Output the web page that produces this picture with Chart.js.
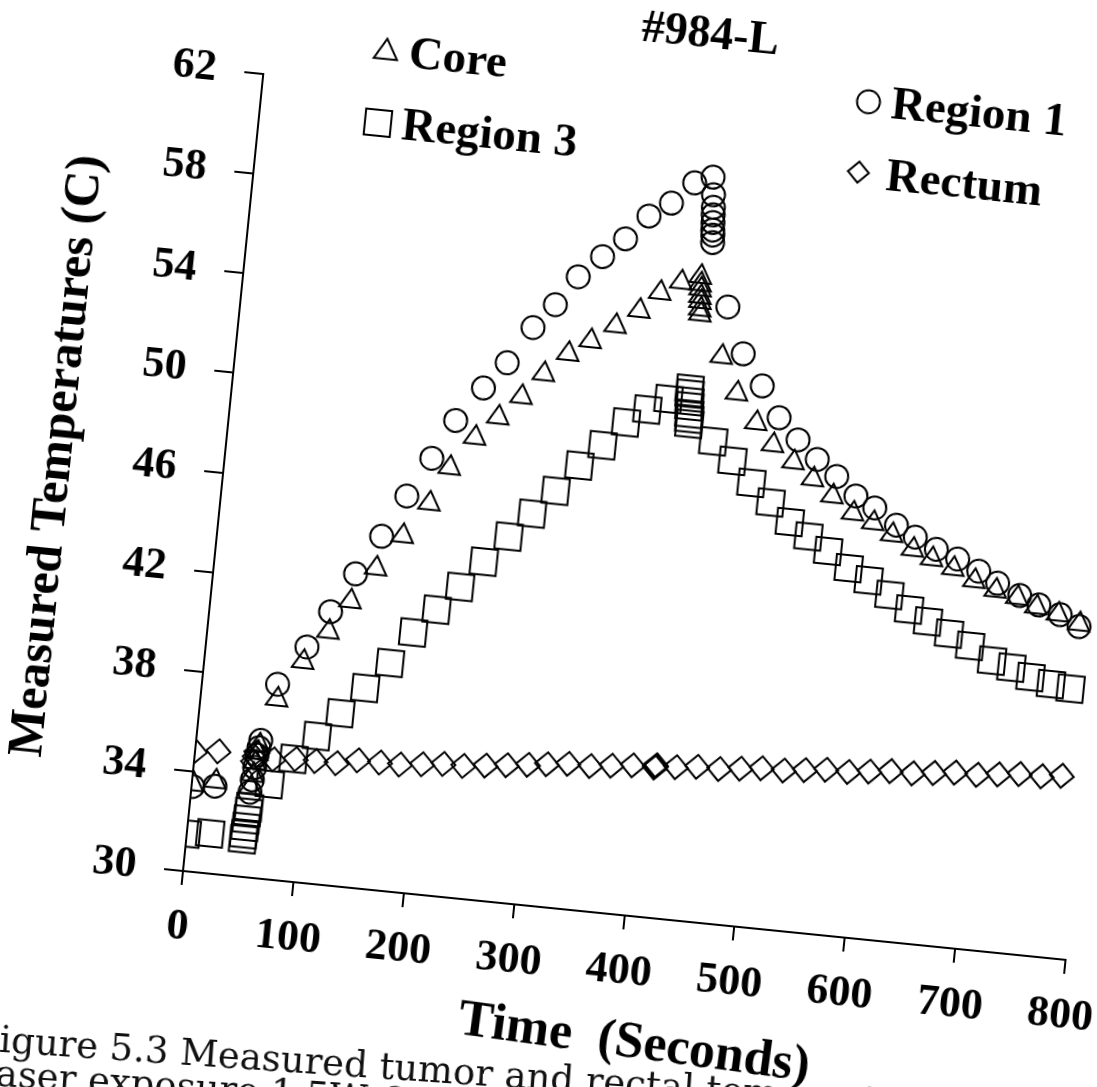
<!DOCTYPE html>
<html>
<head>
<meta charset="utf-8">
<title>#984-L</title>
<script src="https://cdn.jsdelivr.net/npm/chart.js@4.4.1/dist/chart.umd.min.js"></script>
<style>
  html, body { margin: 0; padding: 0; background: #fff; width: 1097px; height: 1087px; overflow: hidden; position: relative; }
  /* the whole figure sits slightly tilted on the page */
  #sheet { position: absolute; left: -27px; top: -50px; width: 1157px; height: 1091px;
           transform-origin: 210px 921px; transform: rotate(5.75deg); }
  #caption { position: absolute; left: -25px; top: 1021px; transform-origin: 0 0; transform: rotate(4deg);
             font-family: "DejaVu Serif", serif; font-size: 37px; line-height: 34px; color: #111; white-space: nowrap; }
</style>
</head>
<body>
<div id="sheet"><canvas id="chart" width="1157" height="1091"></canvas></div>
<div id="caption">Figure 5.3 Measured tumor and rectal temperatures<br>Laser exposure 1.5W, 2</div>
<script>
// ---- data: time (s) and temperature (C) for each probe ----
const chartTitle = '#984-L';
const xTitle = 'Time  (Seconds)';
const yTitle = 'Measured Temperatures (C)';
const xTicks = [0, 100, 200, 300, 400, 500, 600, 700, 800];
const yTicks = [30, 34, 38, 42, 46, 50, 54, 58, 62];

const region1Time = [1, 21, 53, 54, 55, 56, 57, 58, 68, 91, 109, 128, 148, 167, 186, 204, 226, 245, 265, 283, 301, 321, 340, 359, 378, 397, 413, 415, 416, 416.5, 417, 417.5, 418, 418.5, 438, 456, 476, 494, 513, 532, 551, 570, 588, 609, 627, 647, 667, 687, 705, 726, 744, 764, 782];
const region1Temp = [33.4, 33.5, 33.4, 33.9, 34.4, 34.9, 35.2, 35.5, 37.8, 39.4, 40.9, 42.5, 44.1, 45.8, 47.4, 49.0, 50.4, 51.5, 53.0, 54.0, 55.2, 56.1, 56.9, 57.9, 58.5, 59.4, 59.7, 59.0, 58.5, 58.2, 57.9, 57.6, 57.4, 57.1, 54.6, 52.8, 51.6, 50.4, 49.6, 48.9, 48.3, 47.6, 47.2, 46.6, 46.2, 45.8, 45.5, 45.1, 44.7, 44.3, 44.0, 43.7, 43.3];

const coreTime = [1, 21, 53, 54, 55, 56, 57, 69, 89, 109, 126, 146, 167, 188, 203, 223, 242, 261, 279, 299, 318, 339, 359, 376, 394, 411, 411.5, 412, 412.5, 413, 413.5, 414, 437, 454, 474, 491, 511, 530, 549, 569, 588, 606, 626, 644, 664, 684, 704, 724, 742, 762, 782];
const coreTemp = [33.5, 33.7, 33.6, 34.1, 34.6, 35.0, 35.3, 37.2, 38.8, 40.1, 41.4, 42.8, 44.2, 45.6, 47.1, 48.4, 49.3, 50.2, 51.2, 52.1, 52.7, 53.4, 54.1, 54.9, 55.4, 55.7, 55.4, 55.2, 54.9, 54.7, 54.4, 54.2, 52.6, 51.2, 50.1, 49.3, 48.7, 48.1, 47.5, 46.9, 46.6, 46.2, 45.7, 45.4, 45.1, 44.7, 44.4, 44.2, 43.9, 43.7, 43.4];

const region3Time = [0, 21, 51, 51.5, 52, 52.5, 53, 53.5, 70, 89, 108, 127, 147, 167, 185, 204, 223, 242, 262, 281, 300, 319, 338, 357, 375, 393, 411, 411.5, 412, 412.5, 413, 413.5, 414, 437, 456, 475, 494, 513, 531, 550, 570, 589, 609, 628, 646, 666, 686, 707, 725, 743, 762, 780];
const region3Temp = [31.5, 31.6, 31.5, 31.7, 32.0, 32.3, 32.6, 32.8, 33.8, 34.9, 35.9, 36.9, 38.0, 39.1, 40.4, 41.4, 42.4, 43.5, 44.6, 45.6, 46.6, 47.7, 48.6, 49.6, 50.2, 50.7, 51.2, 51.0, 50.7, 50.5, 50.2, 50.0, 49.8, 49.2, 48.5, 47.7, 47.0, 46.3, 45.8, 45.3, 44.7, 44.3, 43.8, 43.3, 42.9, 42.5, 42.1, 41.6, 41.4, 41.1, 40.9, 40.8];

const rectumTime = [0, 21, 53, 54, 55, 71, 91, 109, 128, 147, 167, 185, 205, 224, 242, 262, 281, 300, 317, 336, 356, 375, 394, 414, 414.5, 415, 433, 452, 472, 491, 510, 530, 549, 568, 588, 607, 626, 646, 665, 684, 704, 723, 742, 762, 780];
const rectumTemp = [34.8, 34.9, 34.6, 34.8, 35.0, 34.8, 34.9, 34.9, 34.9, 35.1, 35.1, 35.1, 35.2, 35.3, 35.3, 35.4, 35.5, 35.6, 35.7, 35.8, 35.8, 35.9, 36.0, 36.0, 36.05, 36.1, 36.1, 36.2, 36.2, 36.3, 36.4, 36.4, 36.5, 36.6, 36.6, 36.7, 36.8, 36.8, 36.9, 37.0, 37.0, 37.1, 37.2, 37.2, 37.3];

const FONT = '"Liberation Serif", "Times New Roman", serif';

function pairs(xs, ys) { return xs.map((x, i) => ({ x: x, y: ys[i] })); }

function series(label, xs, ys, style, radius) {
  return {
    label: label,
    data: pairs(xs, ys),
    pointStyle: style,
    pointRadius: radius,
    pointHoverRadius: radius,
    pointBorderWidth: 2,
    borderColor: '#000',
    backgroundColor: 'rgba(0,0,0,0)',
    showLine: false
  };
}

// legend entries laid out in two rows around the top of the plot
// (offsets measured from the lower-left corner of the plot area)
const legendLayout = [
  { index: 1, r: 13.5, mx: 120, my: -835, tx: 143, ty: -834 },
  { index: 0, r: 11.5, mx: 605, my: -834, tx: 628, ty: -832 },
  { index: 2, r: 18.5, mx: 119, my: -764, tx: 143, ty: -762 },
  { index: 3, r: 10.5, mx: 602, my: -763, tx: 630, ty: -760 }
];

function marker(ctx, style, r, x, y) {
  ctx.beginPath();
  if (style === 'circle') {
    ctx.arc(x, y, r, 0, Math.PI * 2);
  } else if (style === 'triangle') {
    ctx.moveTo(x, y - r);
    ctx.lineTo(x + r * Math.sin(2 * Math.PI / 3), y - r * Math.cos(2 * Math.PI / 3));
    ctx.lineTo(x - r * Math.sin(2 * Math.PI / 3), y - r * Math.cos(2 * Math.PI / 3));
    ctx.closePath();
  } else if (style === 'rect') {
    const s = Math.SQRT1_2 * r;
    ctx.rect(x - s, y - s, 2 * s, 2 * s);
  } else {
    ctx.moveTo(x - r, y); ctx.lineTo(x, y - r); ctx.lineTo(x + r, y); ctx.lineTo(x, y + r);
    ctx.closePath();
  }
  ctx.stroke();
}

// title, key and the time-axis caption, placed relative to the plot corner
const headerPlugin = {
  id: 'headerAndKey',
  afterDraw(chart) {
    const { ctx, chartArea } = chart;
    const ox = chartArea.left, oy = chartArea.bottom;
    ctx.save();
    ctx.fillStyle = '#000';
    ctx.textBaseline = 'middle';
    ctx.textAlign = 'center';
    ctx.font = 'bold 46px ' + FONT;
    ctx.fillText(chartTitle, ox + 441, oy - 884);

    // axis caption under the time ticks, slightly more tilted than the axis
    ctx.save();
    ctx.translate(ox + 466, oy + 127);
    ctx.rotate(2 * Math.PI / 180);
    ctx.font = 'bold 52px ' + FONT;
    ctx.fillText(xTitle, 0, 0);
    ctx.restore();

    ctx.textAlign = 'left';
    ctx.font = 'bold 47px ' + FONT;
    ctx.strokeStyle = '#000';
    ctx.lineWidth = 2;
    legendLayout.forEach(item => {
      const ds = chart.data.datasets[item.index];
      marker(ctx, ds.pointStyle, item.r, ox + item.mx, oy + item.my);
      ctx.fillText(ds.label, ox + item.tx, oy + item.ty);
    });
    ctx.restore();
  }
};

const tickFont = { family: FONT, size: 44, weight: 'bold' };

new Chart(document.getElementById('chart'), {
  type: 'scatter',
  data: {
    datasets: [
      series('Region 1', region1Time, region1Temp, 'circle', 11.5),
      series('Core', coreTime, coreTemp, 'triangle', 12.5),
      series('Region 3', region3Time, region3Temp, 'rect', 18.5),
      series('Rectum', rectumTime, rectumTemp, 'rectRot', 12)
    ]
  },
  options: {
    responsive: false,
    animation: false,
    devicePixelRatio: 1,
    layout: { padding: { left: 0, right: 60, top: 120, bottom: 0 } },
    plugins: { legend: { display: false }, title: { display: false }, tooltip: { enabled: false } },
    scales: {
      x: {
        type: 'linear', min: xTicks[0], max: xTicks[xTicks.length - 1],
        afterBuildTicks(scale) { scale.ticks = xTicks.map(v => ({ value: v })); },
        afterFit(scale) { scale.height = 170; },
        ticks: { color: '#000', font: tickFont, padding: 16, maxRotation: 0, autoSkip: false },
        grid: { display: true, drawOnChartArea: false, drawTicks: true, tickLength: 14, color: '#000', lineWidth: 2 },
        border: { display: true, color: '#000', width: 2 },
        title: { display: false, text: xTitle }
      },
      y: {
        type: 'linear', min: yTicks[0], max: yTicks[yTicks.length - 1],
        afterBuildTicks(scale) { scale.ticks = yTicks.map(v => ({ value: v })); },
        afterFit(scale) { scale.width = 210; },
        ticks: { color: '#000', font: tickFont, padding: 28 },
        grid: { display: true, drawOnChartArea: false, drawTicks: true, tickLength: 19, color: '#000', lineWidth: 2 },
        border: { display: true, color: '#000', width: 2 },
        title: { display: true, text: yTitle, color: '#000', font: { family: FONT, size: 50, weight: 'bold' }, padding: { top: 14, bottom: 0 } }
      }
    }
  },
  plugins: [headerPlugin]
});
</script>
</body>
</html>
